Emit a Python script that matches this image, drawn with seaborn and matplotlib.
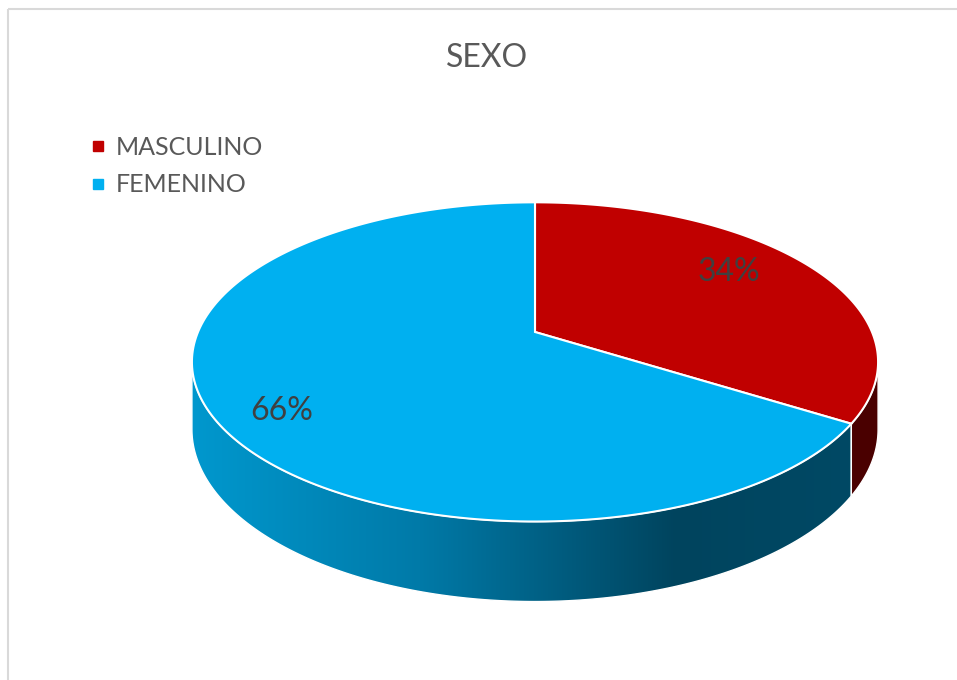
import numpy as np
import matplotlib.pyplot as plt
import seaborn as sns
from matplotlib.patches import Polygon, Rectangle
from matplotlib.colors import LinearSegmentedColormap
from matplotlib.lines import Line2D

# data
labels = ["MASCULINO", "FEMENINO"]
values = [34, 66]
top_colors = ["#C00000", "#00B0F0"]
side_colors = ["#4A0000", "gradient"]
title = "SEXO"

sns.set_theme(style="white")
plt.rcParams["font.family"] = ["Lato", "DejaVu Sans"]

W, H = 957, 680
fig = plt.figure(figsize=(W / 100, H / 100), dpi=100)
ax = fig.add_axes([0, 0, 1, 1])

# pie geometry in pixel units, with a bit of perspective like Excel's 3D pie
cx, cy = 535, 332
rx, ry = 337, 154
k = 0.1875
depth = 65


def proj(theta, r=1.0, z=0.0):
    t = np.radians(theta)
    d = 1 + k * r * np.sin(t)
    return cx + rx * r * np.cos(t) / d, cy - ry * r * np.sin(t) / d + z * depth / d


def arc(a, b, z=0.0, n=200):
    th = np.linspace(a, b, n)
    x, y = proj(th, 1.0, z)
    return np.column_stack([x, y])


total = sum(values)
ends = 90 - 360 * np.cumsum(values) / total
starts = np.concatenate([[90], ends[:-1]])

vis_lo = -180 + np.degrees(np.arcsin(k))
vis_hi = -np.degrees(np.arcsin(k))

blue_side = LinearSegmentedColormap.from_list(
    "side", [(0.0, "#0098CE"), (0.33, "#007AA8"), (0.7, "#00445E"), (1.0, "#004A66")])

# sides first
for a0, a1, sc in zip(starts, ends, side_colors):
    lo, hi = max(a1, vis_lo), min(a0, vis_hi)
    if lo >= hi:
        continue
    pts = np.vstack([arc(hi, lo, 0), arc(lo, hi, 1)])
    if sc == "gradient":
        poly = Polygon(pts, closed=True, facecolor="none", edgecolor="white", lw=1, zorder=2)
        ax.add_patch(poly)
        grad = np.linspace(0, 1, 256).reshape(1, -1)
        im = ax.imshow(grad, cmap=blue_side, aspect="auto", zorder=1,
                       extent=[190, 885, pts[:, 1].max(), pts[:, 1].min()])
        im.set_clip_path(poly)
    else:
        ax.add_patch(Polygon(pts, closed=True, facecolor=sc, edgecolor="white", lw=1, zorder=2))

# top faces
for a0, a1, c in zip(starts, ends, top_colors):
    pts = np.vstack([[cx, cy], arc(a0, a1, 0)])
    ax.add_patch(Polygon(pts, closed=True, facecolor=c, edgecolor="white", lw=1.5,
                         joinstyle="miter", zorder=3))

# percentage labels
label_r = [0.75, 0.83]
for a0, a1, v, r in zip(starts, ends, values, label_r):
    mid = (a0 + a1) / 2 + 5.5
    lx, ly = proj(mid, r)
    ax.text(lx, ly, f"{round(100 * v / total)}%", ha="center", va="center",
            fontsize=23, color="#404040", zorder=5)

ax.text(487, 67, title, ha="center", va="baseline", fontsize=23, color="#595959")

handles = [Line2D([], [], marker="s", ls="", color=c, markersize=7.5) for c in top_colors]
ax.legend(handles, labels, loc="upper left", bbox_to_anchor=(88 / W, 1 - 136 / H),
          frameon=False, fontsize=18, labelcolor="#595959", handletextpad=0.3,
          handlelength=0.8, labelspacing=0.58, borderaxespad=0, borderpad=0)

ax.add_patch(Rectangle((7.5, 8.5), W, H, fill=False, edgecolor="#D9D9D9", lw=1.5))

ax.set_xlim(0, W)
ax.set_ylim(H, 0)
ax.axis("off")
fig.savefig("out.png", dpi=100, facecolor="white")
